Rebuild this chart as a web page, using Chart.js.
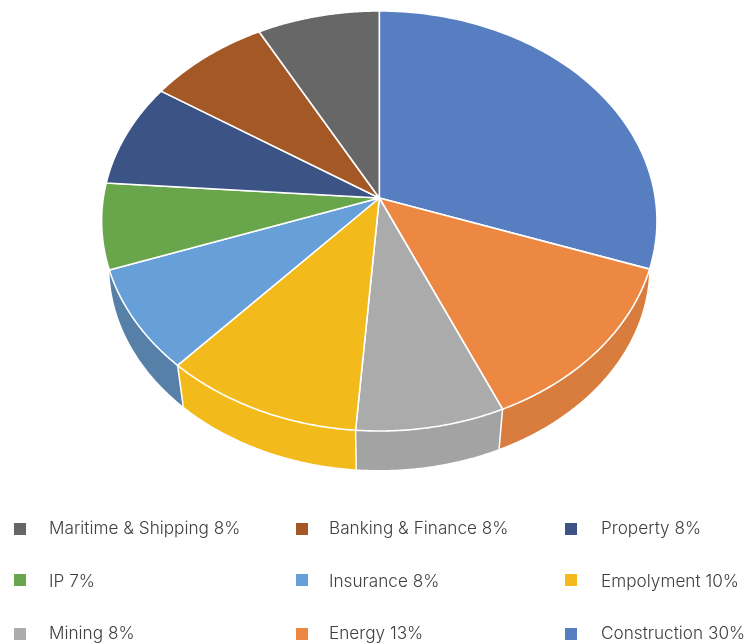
<!DOCTYPE html>
<html><head><meta charset="utf-8">
<style>html,body{margin:0;padding:0;background:#fff}canvas{display:block}</style>
<script src="https://cdn.jsdelivr.net/npm/chart.js@4"></script></head>
<body><canvas id="c" width="750" height="644"></canvas>
<script>
// legend order
const categories=["Maritime & Shipping","Banking & Finance","Property","IP","Insurance","Empolyment","Mining","Energy","Construction"];
const percentLabels=[8,8,8,7,8,10,8,13,30];
const sliceValues=[7.92,7.89,8.03,6.58,7.86,10.5,7.8,13.06,30.36];
const topColors=["#676767","#A35825","#3B5485","#69A54A","#679FD8","#F2BA1A","#ABABAB","#ED8843","#567EC0"];
const wallColors=["#5C5C5C","#8F4D20","#334A75","#5D9141","#5780A8","#F2BA1A","#A3A3A3","#D87D3E","#4C70A9"];

const hub={x:379.3,y:198}, A=276, B=207.5, K=0.1095;
const baseScaleX=0.972, baseScaleY=0.968, baseHubY=244.5;
function rim(t,sx,sy,hy){ // t: chart angle
  const th=t+Math.PI/2,u=Math.sin(th),v=-Math.cos(th),w=1-K*v;
  return [hub.x+sx*A*u/w, hy+sy*B*v/w];
}
const topRim=t=>rim(t,1,1,hub.y), baseRim=t=>rim(t,baseScaleX,baseScaleY,baseHubY);
const pie3d={id:"pie3d",
  beforeDatasetDraw(chart,args){
    const ctx=chart.ctx,arcs=args.meta.data,steps=80;
    const wall=[...wallColors].reverse();
    const visible=el=>Math.sin((el.startAngle+el.endAngle)/2)>0.3;
    arcs.forEach((el,i)=>{
      if(!visible(el))return;
      const a=el.startAngle,b=el.endAngle;
      // the outermost walls run on to where the base rim meets the top rim
      const prev=arcs[i-1],next=arcs[i+1];
      const a2=(prev&&visible(prev))?a:a-0.25;
      const b2=(next&&visible(next))?b:b+0.25;
      ctx.beginPath();
      for(let n=0;n<=steps;n++){const p=topRim(a+(b-a)*n/steps);n?ctx.lineTo(p[0],p[1]):ctx.moveTo(p[0],p[1]);}
      for(let n=steps;n>=0;n--){const p=baseRim(a2+(b2-a2)*n/steps);ctx.lineTo(p[0],p[1]);}
      ctx.closePath();
      ctx.fillStyle=wall[i];ctx.fill();
    });
    ctx.strokeStyle="#fff";ctx.lineWidth=1.5;
    arcs.forEach((el,i)=>{
      const next=arcs[i+1];
      if(!next||!visible(el)||!visible(next))return;
      const p=topRim(el.endAngle),q=baseRim(el.endAngle);
      ctx.beginPath();ctx.moveTo(p[0],p[1]);ctx.lineTo(q[0],q[1]);ctx.stroke();
    });
    const top=[...topColors].reverse();
    arcs.forEach((el,i)=>{
      const a=el.startAngle,b=el.endAngle;
      ctx.beginPath();ctx.moveTo(hub.x,hub.y);
      for(let n=0;n<=steps;n++){const p=topRim(a+(b-a)*n/steps);ctx.lineTo(p[0],p[1]);}
      ctx.closePath();
      ctx.fillStyle=top[i];ctx.fill();
      ctx.strokeStyle="#fff";ctx.lineWidth=1.6;ctx.lineJoin="round";ctx.stroke();
    });
    return false;
  },
  afterDraw(chart){
    const ctx=chart.ctx,colX=[14,296,565],textX=[49,329,601],rowY=[523,574,628],textY=[529,582,634];
    ctx.save();ctx.textBaseline="middle";ctx.textAlign="left";
    ctx.font='300 17.2px Inter, sans-serif';
    categories.forEach((c,i)=>{
      const col=i%3,row=Math.floor(i/3);
      ctx.fillStyle=topColors[i];ctx.fillRect(colX[col],rowY[row],12,12);
      ctx.fillStyle="#404040";ctx.fillText(c+" "+percentLabels[i]+"%",textX[col],textY[row]);
    });
    ctx.restore();
  }
};
new Chart(document.getElementById("c"),{
  type:"pie",
  data:{labels:[...categories].reverse(),datasets:[{data:[...sliceValues].reverse(),backgroundColor:[...topColors].reverse()}]},
  options:{responsive:false,animation:false,events:[],plugins:{legend:{display:false},tooltip:{enabled:false}}},
  plugins:[pie3d]
});
</script></body></html>
